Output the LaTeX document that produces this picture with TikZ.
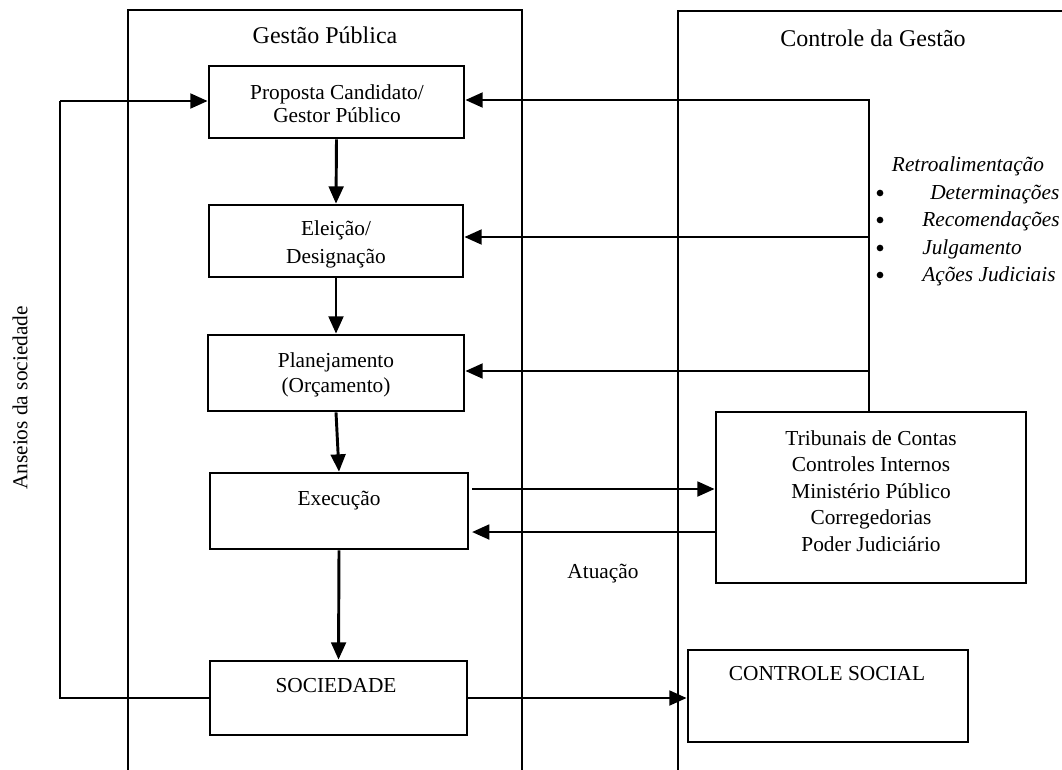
\documentclass[tikz,border=0pt]{standalone}
\usepackage{fontspec}
\setmainfont{Liberation Serif}
\usetikzlibrary{arrows.meta}
\tikzset{
  x=0.75pt, y=-0.75pt,
  txt/.style={font=\fontsize{16}{19}\selectfont, inner sep=0pt},
  head/.style={font=\fontsize{18}{21}\selectfont, inner sep=0pt},
  box/.style={draw, line width=2pt, inner sep=0pt},
  col/.style={draw, line width=2pt},
  arr/.style={line width=2.2pt, -{Triangle[length=13pt,width=11pt]}},
  thinline/.style={line width=1.1pt},
  bul/.style={circle, fill, inner sep=0pt, minimum size=5pt},
}
\begin{document}
\begin{tikzpicture}
\useasboundingbox (0,0) rectangle (1062,769);
\fill[white] (0,0) rectangle (1062,769);
\clip (0,0) rectangle (1062,769);

% columns
\draw[col] (128,780) -- (128,10) -- (522,10) -- (522,780);
\draw[col] (678,780) -- (678,11) -- (1075,11);
\node[head] (tgp) at (325,35) {Gestão Pública};
\node[head] (tcg) at (873,38) {Controle da Gestão};

% boxes
\node[box, minimum width=255*0.75pt, minimum height=72*0.75pt] (prop) at (336.5,102) {};
\node[box, minimum width=254*0.75pt, minimum height=72*0.75pt] (elei) at (336,241) {};
\node[box, minimum width=256*0.75pt, minimum height=76*0.75pt] (plan) at (336,373) {};
\node[box, minimum width=258*0.75pt, minimum height=76*0.75pt] (exec) at (339,511) {};
\node[box, minimum width=257*0.75pt, minimum height=74*0.75pt] (soc) at (338.5,698) {};
\node[box, minimum width=310*0.75pt, minimum height=171*0.75pt] (trib) at (871,497.5) {};
\node[box, minimum width=280*0.75pt, minimum height=92*0.75pt] (csoc) at (828,696) {};

% box texts
\node[txt, align=center, font=\fontsize{16}{17.25}\selectfont] (tprop) at (337,104) {Proposta Candidato/\\Gestor Público};
\node[txt, align=center, font=\fontsize{16}{21}\selectfont] (telei) at (336,244) {Eleição/\\Designação};
\node[txt, align=center, font=\fontsize{16}{18.75}\selectfont] (tplan) at (336,375) {Planejamento\\(Orçamento)};
\node[txt, anchor=base] (texec) at (339,505) {Execução};
\node[txt, anchor=base] (tsoc) at (336,692) {SOCIEDADE};
\node[txt, align=center, font=\fontsize{16}{19.9}\selectfont] (ttrib) at (871,491) {Tribunais de Contas\\Controles Internos\\Ministério Público\\Corregedorias\\Poder Judiciário};
\node[txt, anchor=base] (tcsoc) at (827,680) {CONTROLE SOCIAL};

% labels
\node[txt, anchor=base] (tatu) at (603,578) {Atuação};
\node[txt, rotate=90] (tans) at (20,398) {Anseios da sociedade};
\node[txt, anchor=base, font=\fontsize{16}{19}\itshape] (tretro) at (968,171) {Retroalimentação};
\node[bul] (b1) at (880,193) {};
\node[bul] (b2) at (880,220) {};
\node[bul] (b3) at (880,248) {};
\node[bul] (b4) at (880,275) {};
\node[txt, anchor=base west, font=\fontsize{16}{19}\itshape] (i1) at (930,199) {Determinações};
\node[txt, anchor=base west, font=\fontsize{16}{19}\itshape] (i2) at (922,226) {Recomendações};
\node[txt, anchor=base west, font=\fontsize{16}{19}\itshape] (i3) at (922,254) {Julgamento};
\node[txt, anchor=base west, font=\fontsize{16}{19}\itshape] (i4) at (922,281) {Ações Judiciais};

% main flow
\draw[arr] (prop.south) -- (elei.north);
\draw[arr] (elei.south) -- (plan.north);
\draw[arr] (plan.south) -- (exec.north);
\draw[arr] (exec.south) -- (soc.north);

% society loop
\coordinate (lb) at (60,698);
\coordinate (lt) at (60,101);
\draw[thinline] (soc.west) -- (lb) -- (lt);
\draw[arr] (lt) -- (lt -| prop.west);

% feedback
\coordinate (ft) at (869,100);
\coordinate (f2) at (869,237);
\coordinate (f3) at (869,371);
\draw[thinline] (ft) -- (ft |- trib.north);
\draw[arr] ([xshift=0.6pt]ft) -- (ft -| prop.east);
\draw[arr] (f2) -- (f2 -| elei.east);
\draw[arr] (f3) -- (f3 -| plan.east);

% atuação arrows
\coordinate (a1) at (472,489);
\coordinate (a2) at (472,532);
\draw[arr] (a1) -- (a1 -| trib.west);
\draw[arr] (a2 -| trib.west) -- (a2);

% controle social
\draw[arr] (soc.east) -- (soc.east -| csoc.west);
\end{tikzpicture}
\end{document}
